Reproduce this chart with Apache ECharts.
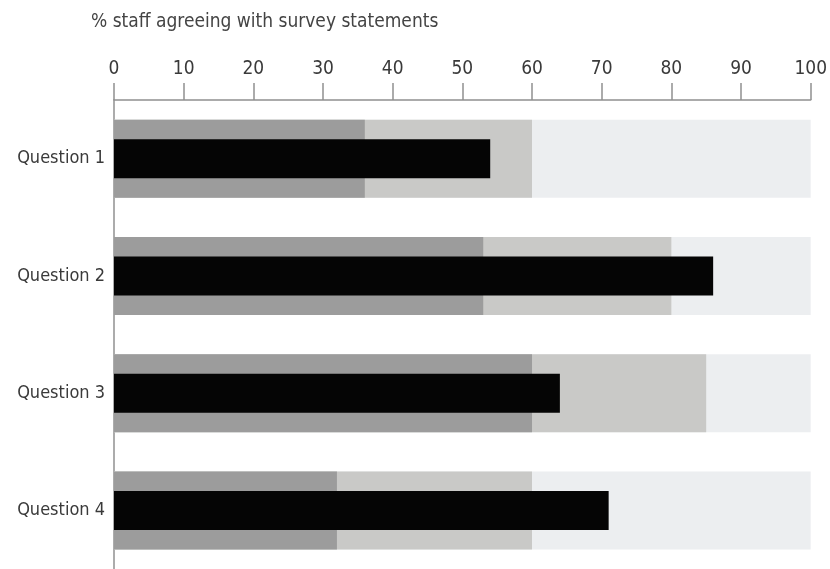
<!DOCTYPE html>
<html>
<head>
<meta charset="utf-8">
<script src="https://cdn.jsdelivr.net/npm/echarts@6/dist/echarts.min.js"></script>
<style>html,body{margin:0;padding:0;background:#fff}#c{width:830px;height:569px}</style>
</head>
<body>
<div id="c"></div>
<script>
const categories = ['Question 1', 'Question 2', 'Question 3', 'Question 4'];
const poorBand = [36, 53, 60, 32];
const okBand = [60, 80, 85, 60];
const goodBand = [100, 100, 100, 100];
const actual = [54, 86, 64, 71];
const tickMin = 0, tickMax = 100, tickStep = 10;

const chart = echarts.init(document.getElementById('c'));
const font = '"Liberation Sans Narrow", "DejaVu Sans Condensed", Roboto, sans-serif';
chart.setOption({
  animation: false,
  backgroundColor: '#fff',
  title: {
    text: '% staff agreeing with survey statements',
    left: 86, top: 8,
    textStyle: {fontFamily: font, fontSize: 19, fontWeight: 'normal', color: '#444'}
  },
  grid: {left: 114, right: 17, top: 100, height: 476, containLabel: false},
  xAxis: {
    type: 'value', position: 'top', min: tickMin, max: tickMax, interval: tickStep,
    axisLine: {show: true, lineStyle: {color: '#909090', width: 1.5}},
    axisTick: {show: true, length: 17, lineStyle: {color: '#909090', width: 1.5}},
    axisLabel: {margin: 21, fontFamily: font, fontSize: 19, color: '#3a3a3a'},
    splitLine: {show: false}
  },
  yAxis: [{
    type: 'category', data: categories, inverse: true,
    axisLine: {show: true, lineStyle: {color: '#909090', width: 1.5}},
    axisTick: {show: false},
    axisLabel: {margin: 9, fontFamily: font, fontSize: 18, color: '#3a3a3a'}
  }, {
    type: 'category', data: categories, inverse: true, show: false,
    gridIndex: 0
  }],
  series: [
    {type: 'bar', yAxisIndex: 0, data: goodBand, barWidth: 78, barGap: '-100%', itemStyle: {color: '#eceef0'}, silent: true},
    {type: 'bar', yAxisIndex: 0, data: okBand, barWidth: 78, barGap: '-100%', itemStyle: {color: '#c9c9c7'}, silent: true},
    {type: 'bar', yAxisIndex: 0, data: poorBand, barWidth: 78, barGap: '-100%', itemStyle: {color: '#9c9c9c'}, silent: true},
    {type: 'bar', yAxisIndex: 1, data: actual, barWidth: 39, itemStyle: {color: '#050505'}, silent: true}
  ]
});
</script>
</body>
</html>
